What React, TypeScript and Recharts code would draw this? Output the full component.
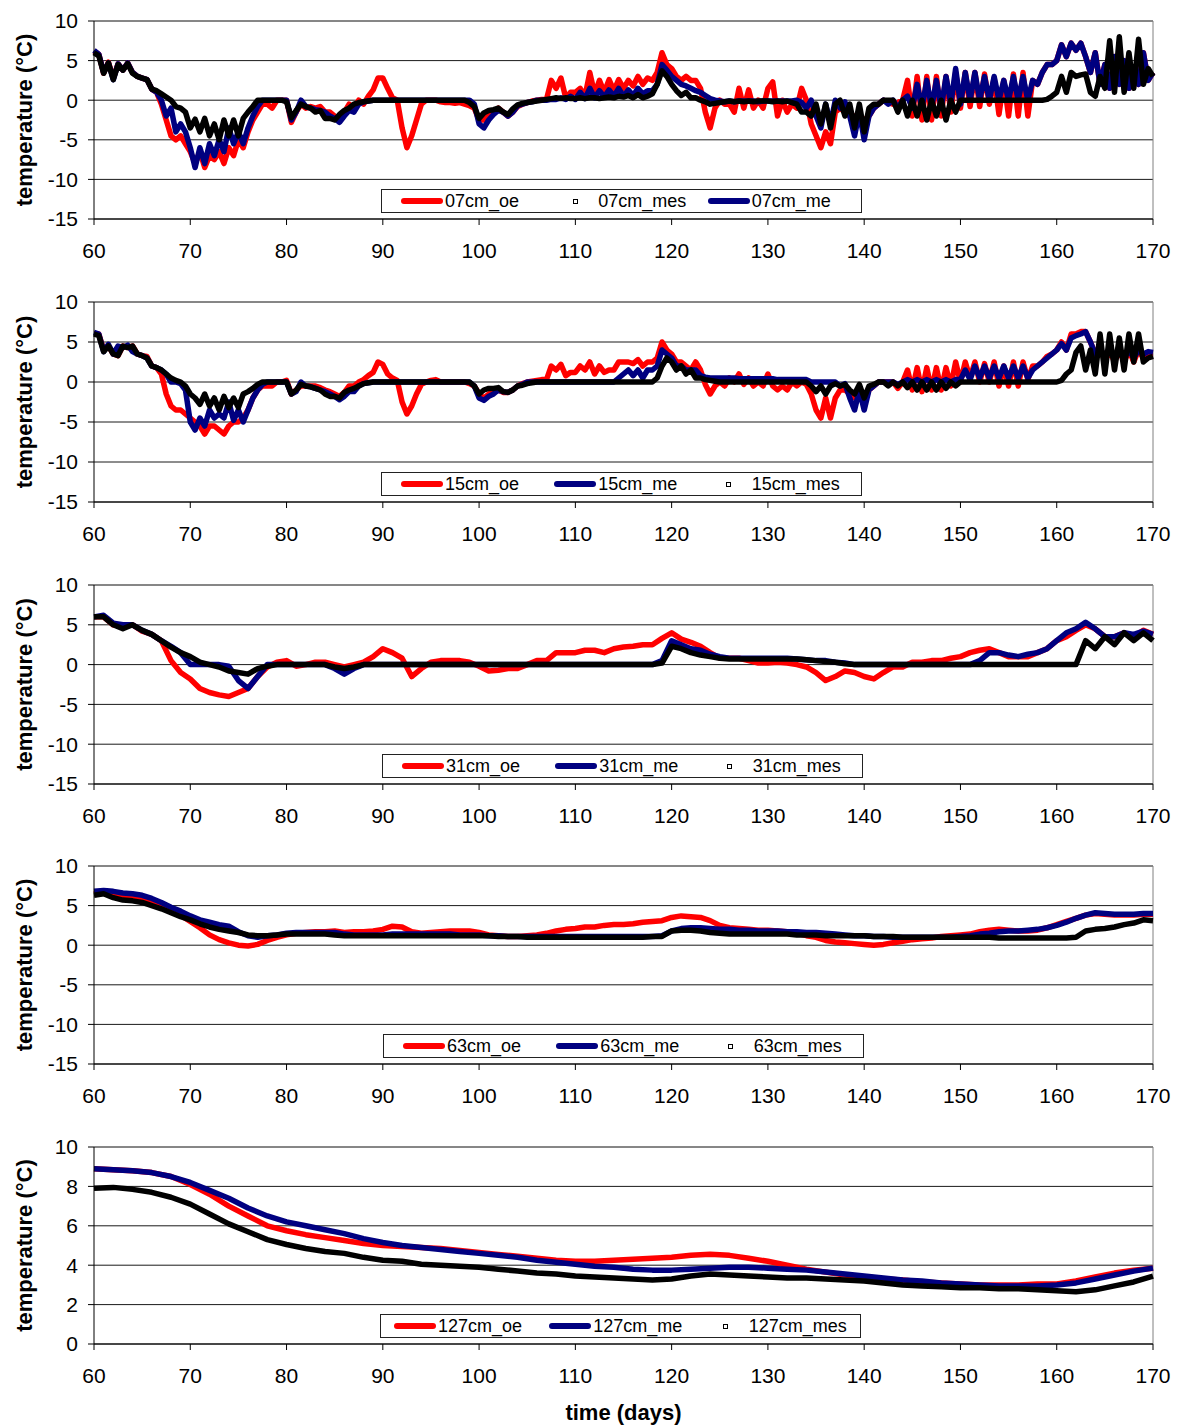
import { LineChart, Line, XAxis, YAxis, CartesianGrid, ReferenceLine } from 'recharts';

// day grids (x positions) for each panel
const DAYS_HALF = Array.from({ length: 221 }, (_, i) => 60 + i * 0.5);
const DAYS_ONE = Array.from({ length: 111 }, (_, i) => 60 + i);
const DAYS_TWO = Array.from({ length: 56 }, (_, i) => 60 + i * 2);

const X_TICKS = [60, 70, 80, 90, 100, 110, 120, 130, 140, 150, 160, 170];
const Y_TICKS_WIDE = [-15, -10, -5, 0, 5, 10];
const Y_TICKS_DEEP = [0, 2, 4, 6, 8, 10];

// ---- 07 cm (half-day steps) ----
const OE_07 = [
  6.2, 5.8, 3.4, 4.8, 2.8, 4.6, 3.8, 4.7, 3.5, 3.0,
  2.8, 2.6, 1.4, 1.0, -0.5, -2.5, -4.5, -5.0, -4.5, -5.5,
  -6.5, -8.0, -6.5, -8.5, -7.0, -7.5, -6.5, -8.0, -6.0, -7.0,
  -5.0, -6.0, -4.0, -2.5, -1.5, -0.5, -0.5, -1.0, 0.0, 0.0,
  0.0, -2.8, -1.5, -0.5, -1.0, -0.8, -1.0, -0.8, -1.5, -1.5,
  -2.0, -2.5, -1.5, -0.5, -1.0, 0.0, -0.5, 0.5, 1.3, 2.8,
  2.8, 1.5, 0.3, 0.0, -3.5, -6.0, -4.5, -2.5, -0.5, 0.0,
  0.0, 0.0, -0.2, -0.3, -0.3, -0.4, -0.3, -0.5, -0.7, -1.0,
  -2.5, -2.5, -1.8, -1.5, -1.0, -1.5, -2.0, -1.5, -0.8, -0.5,
  -0.3, -0.1, 0.0, 0.1, 0.1, 2.5, 1.5, 2.8, 0.3, 1.0,
  1.0, 1.5, 0.5, 3.5, 0.8, 2.5, 1.0, 2.6, 1.2, 2.6,
  1.5, 2.5, 1.8, 3.0, 2.0, 2.8, 2.5, 3.5, 6.0, 4.5,
  4.0, 3.0, 2.5, 3.0, 2.5, 2.5, 1.5, -1.5, -3.5, -1.0,
  0.0, -0.5, -0.5, -1.5, 1.5, -1.0, 1.3, -1.0, 0.0, -1.0,
  1.5, 2.3, -2.0, 0.0, -1.5, -0.5, -1.0, 1.5, 0.0, -3.0,
  -4.5, -6.0, -4.0, -5.5, -1.5, -1.0, -1.5, -2.0, -2.0, -2.0,
  -2.5, -2.0, -1.0, -0.5, 0.0, -0.3, -0.5, -0.3, 0.0, 2.5,
  -2.0, 3.0, -2.5, 3.0, -2.5, 3.0, -2.0, 3.0, -1.5, 3.5,
  -1.0, 3.5, -0.8, 3.5, -0.8, 3.3, -0.5, 2.8, -1.8, 2.5,
  -2.0, 3.3, -2.0, 3.5, -2.0, 2.5, 2.0, 3.5, 4.5, 4.5,
  5.0, 7.0, 5.5, 7.2, 6.3, 7.2, 5.5, 3.5, 6.0, 2.0,
  4.5, 1.5, 5.5, 2.0, 5.0, 1.5, 4.0, 2.0, 6.0, 2.5,
  3.5,
];
const ME_07 = [
  6.3, 5.8, 3.5, 4.7, 2.6, 4.6, 3.8, 4.7, 3.5, 3.0,
  2.8, 2.6, 1.4, 1.0, 0.0, -2.0, -1.0, -4.0, -3.0, -4.0,
  -6.0, -8.5, -6.0, -8.0, -5.5, -7.0, -5.0, -6.5, -3.5, -5.5,
  -4.0, -5.5, -3.5, -2.0, -0.8, 0.0, 0.0, 0.0, 0.0, 0.0,
  0.0, -2.5, -1.5, 0.0, -0.8, -1.0, -1.2, -1.3, -1.5, -2.0,
  -2.3, -2.8, -2.0, -1.3, -1.5, -0.5, -0.2, -0.1, 0.0, 0.0,
  0.0, 0.0, 0.0, 0.0, 0.0, 0.0, 0.0, 0.0, 0.0, 0.0,
  0.0, 0.0, 0.0, 0.0, 0.0, 0.0, 0.0, 0.0, 0.0, -0.5,
  -3.0, -3.5, -2.5, -1.8, -1.3, -1.5, -2.0, -1.5, -0.7, -0.5,
  -0.3, -0.2, 0.0, 0.0, 0.0, 0.1, 0.1, 0.3, 0.1, 0.5,
  0.1, 1.0, 0.2, 1.5, 0.3, 1.2, 0.4, 1.3, 0.5, 1.5,
  0.5, 1.3, 0.6, 1.5, 0.8, 1.2, 1.2, 2.0, 4.5, 3.8,
  3.0, 2.5, 2.0, 1.8, 1.5, 1.2, 1.0, 0.6, 0.2, 0.0,
  -0.1, -0.2, -0.1, -0.2, -0.1, -0.1, -0.1, -0.1, -0.2, -0.1,
  -0.1, -0.1, -0.1, -0.1, -0.1, -0.1, 0.0, -0.3, -1.0, 0.0,
  -2.0, -3.5, -0.5, -3.0, 0.0, -1.0, -0.2, -2.0, -4.5, -1.5,
  -5.0, -2.0, -1.0, -0.5, 0.0, -0.5, 0.0, -1.0, 0.0, 0.5,
  -1.0, 2.0, -1.0, 2.5, -1.0, 2.5, -1.0, 3.0, -0.5, 4.0,
  -0.5, 3.5, 0.0, 3.5, 0.0, 3.0, 0.0, 3.0, 0.0, 2.5,
  0.0, 3.0, 0.0, 3.0, 0.0, 2.5, 2.0, 3.5, 4.5, 4.5,
  5.0, 7.0, 5.5, 7.2, 6.3, 7.2, 5.5, 3.5, 6.0, 2.0,
  4.5, 1.5, 5.5, 2.0, 5.0, 1.5, 4.0, 2.0, 6.0, 2.5,
  3.5,
];
const MES_07 = [
  6.0, 5.6, 3.4, 4.7, 2.6, 4.5, 3.8, 4.6, 3.4, 3.0,
  2.8, 2.6, 1.4, 1.2, 0.8, 0.4, 0.0, -0.8, -1.0, -1.5,
  -3.5, -2.4, -4.0, -2.3, -4.5, -3.0, -5.0, -2.5, -4.5, -2.5,
  -4.5, -2.3, -1.5, -0.8, 0.0, 0.0, 0.0, 0.0, 0.0, 0.0,
  -0.2, -2.2, -1.3, -0.5, -0.8, -1.0, -1.5, -1.3, -2.3, -2.3,
  -2.5, -1.8, -1.3, -1.0, -0.5, -0.3, -0.2, -0.1, 0.0, 0.0,
  0.0, 0.0, 0.0, 0.0, 0.0, 0.0, 0.0, 0.0, 0.0, 0.0,
  0.0, 0.0, 0.0, 0.0, 0.0, 0.0, 0.0, 0.0, -0.3, -0.8,
  -2.3, -1.6, -1.3, -1.2, -1.0, -1.5, -1.8, -1.1, -0.6, -0.4,
  -0.3, -0.2, -0.1, 0.0, 0.1, 0.2, 0.3, 0.2, 0.3, 0.2,
  0.2, 0.3, 0.2, 0.3, 0.3, 0.2, 0.3, 0.4, 0.3, 0.5,
  0.4, 0.6, 0.3, 0.7, 0.3, 0.5, 0.8, 2.0, 3.7, 3.0,
  2.0, 1.2, 0.6, 1.0, 0.3, 0.3, 0.0, -0.2, -0.5, -0.4,
  -0.3, -0.2, -0.1, -0.2, -0.1, -0.2, -0.1, -0.2, -0.1, -0.1,
  -0.1, -0.2, -0.1, -0.2, -0.1, -0.3, -0.5, -1.5, -1.5, -2.0,
  -0.5, -3.0, -0.5, -3.5, -0.5, 0.0, -2.0, -0.5, -3.5, -0.5,
  -4.0, -1.0, -0.5, -0.5, 0.0, 0.0, 0.0, -1.5, 0.0, -2.0,
  0.0, -2.0, 0.0, -2.5, 0.0, -2.0, 0.0, -2.5, 0.0, -1.5,
  0.0, 0.0, 0.0, 0.0, 0.0, 0.0, 0.0, 0.0, 0.0, 0.0,
  0.0, 0.0, 0.0, 0.0, 0.0, 0.0, 0.0, 0.0, 0.1, 0.5,
  1.0, 3.0, 1.0, 3.5, 3.0, 3.2, 3.3, 1.0, 0.5, 3.0,
  1.5, 7.5, 1.0, 8.0, 1.0, 6.0, 1.5, 7.7, 2.0, 4.0,
  3.0,
];

// ---- 15 cm (half-day steps) ----
const OE_15 = [
  6.0, 6.0, 4.0, 4.5, 3.5, 3.3, 4.5, 4.3, 4.5, 3.5,
  3.3, 3.2, 2.0, 1.8, 1.0, -1.5, -3.0, -3.5, -3.5, -4.0,
  -4.5, -5.0, -5.5, -6.5, -5.5, -5.5, -6.0, -6.5, -5.5, -5.0,
  -5.0, -4.5, -3.5, -2.0, -1.0, -0.5, -0.5, -0.5, 0.0, 0.0,
  0.2, -1.5, -1.0, -0.5, -0.5, -0.5, -0.5, -0.7, -1.0, -1.2,
  -1.5, -1.8, -1.3, -0.5, -0.5, 0.0, 0.3, 0.8, 1.2, 2.5,
  2.2, 1.0, 0.5, 0.2, -2.5, -4.0, -3.0, -1.5, -0.3, 0.0,
  0.2, 0.3, 0.0, 0.0, 0.0, 0.0, 0.0, 0.0, -0.2, -0.5,
  -1.5, -2.0, -1.5, -1.2, -1.0, -1.3, -1.3, -1.0, -0.5, -0.2,
  0.0, 0.1, 0.2, 0.3, 0.3, 2.0, 1.5, 2.2, 0.8, 1.2,
  1.2, 2.0, 1.5, 2.5, 1.0, 2.0, 1.2, 1.5, 1.5, 2.5,
  2.5, 2.5, 2.3, 2.8, 2.0, 2.5, 2.5, 3.0, 5.0, 4.0,
  3.5, 2.5, 2.5, 2.0, 1.5, 2.5, 1.5, -0.3, -1.5, -0.5,
  0.0, -0.5, 0.5, 0.0, 1.0, -0.3, 0.5, -0.5, 0.0, -0.5,
  1.0, -0.5, -1.0, -0.5, -1.0, 0.0, -0.5, 0.0, -0.3, -1.5,
  -3.5, -4.5, -2.0, -4.5, -2.0, -1.0, -1.0, -1.5, -2.0, -1.0,
  -2.5, -1.0, -0.5, 0.0, 0.0, 0.0, 0.0, -0.8, 0.0, 1.5,
  -1.0, 1.8, -1.2, 1.8, -1.0, 1.8, -1.0, 1.8, -0.5, 2.5,
  0.0, 2.5, 0.5, 2.5, 0.0, 2.3, 0.0, 2.5, -0.5, 2.0,
  -0.5, 2.5, -0.5, 2.5, 0.3, 2.0, 2.0, 2.5, 3.2, 3.5,
  4.0, 5.0, 4.0, 6.0, 6.0, 6.3, 6.3, 5.0, 3.5, 4.5,
  2.5, 4.0, 2.5, 4.0, 2.5, 4.0, 2.5, 4.0, 3.0, 3.5,
  3.5,
];
const ME_15 = [
  6.2, 6.0, 3.8, 4.7, 3.5, 4.5, 4.3, 4.6, 3.8, 3.5,
  3.3, 3.0, 2.0, 1.8, 1.5, 1.0, 0.0, 0.0, -0.2, -1.0,
  -5.0, -6.0, -4.5, -5.5, -3.5, -4.5, -4.0, -4.5, -2.5, -4.8,
  -3.5, -5.0, -3.5, -2.0, -1.0, -0.3, 0.0, 0.0, 0.0, 0.0,
  0.0, -1.5, -1.2, 0.0, -0.5, -0.6, -0.8, -1.0, -1.2, -1.5,
  -1.8, -2.2, -1.8, -1.2, -1.2, -0.5, -0.2, -0.1, 0.0, 0.0,
  0.0, 0.0, 0.0, 0.0, 0.0, 0.0, 0.0, 0.0, 0.0, 0.0,
  0.0, 0.0, 0.0, 0.0, 0.0, 0.0, 0.0, 0.0, 0.0, -0.5,
  -2.0, -2.3, -1.8, -1.5, -1.0, -1.2, -1.3, -1.0, -0.5, -0.3,
  0.0, 0.0, 0.0, 0.0, 0.0, 0.0, 0.0, 0.0, 0.0, 0.0,
  0.0, 0.0, 0.0, 0.0, 0.0, 0.0, 0.0, 0.0, 0.0, 0.5,
  1.0, 1.5, 0.8, 1.5, 0.5, 1.5, 1.5, 2.0, 4.0, 3.5,
  3.0, 2.0, 2.0, 1.5, 1.5, 1.5, 0.8, 0.6, 0.5, 0.5,
  0.5, 0.5, 0.5, 0.5, 0.4, 0.4, 0.4, 0.4, 0.4, 0.4,
  0.4, 0.4, 0.3, 0.3, 0.3, 0.3, 0.3, 0.3, 0.3, 0.0,
  0.0, 0.0, 0.0, 0.0, 0.0, -0.5, -0.2, -2.0, -3.5, -1.0,
  -3.5, -1.0, -0.5, 0.0, 0.0, 0.0, 0.0, -0.3, 0.0, 0.3,
  0.0, 0.3, 0.0, 0.3, 0.0, 0.3, 0.0, 0.3, 0.0, 0.3,
  0.3, 1.5, 0.3, 2.0, 0.5, 2.0, 0.5, 2.0, 0.5, 2.0,
  0.5, 2.0, 0.5, 2.0, 0.5, 1.5, 2.0, 2.5, 3.0, 3.5,
  4.0, 4.8, 4.0, 5.5, 5.8, 6.0, 6.3, 5.0, 3.5, 4.3,
  3.0, 4.0, 3.0, 4.0, 3.0, 4.0, 3.0, 4.0, 3.5, 3.8,
  3.7,
];
const MES_15 = [
  6.0, 5.8, 3.8, 4.5, 3.5, 3.3, 4.5, 4.3, 4.5, 3.5,
  3.3, 3.0, 2.0, 1.8, 1.5, 1.0, 0.5, 0.2, 0.0, -0.5,
  -1.5, -2.0, -2.8, -1.5, -3.0, -2.0, -3.5, -1.8, -3.2, -2.0,
  -3.2, -1.5, -1.2, -0.8, -0.3, 0.0, 0.0, 0.0, 0.0, 0.0,
  0.0, -1.5, -1.0, -0.3, -0.5, -0.6, -0.8, -1.0, -1.5, -1.8,
  -1.8, -2.0, -1.3, -1.0, -0.8, -0.5, -0.2, -0.1, 0.0, 0.0,
  0.0, 0.0, 0.0, 0.0, 0.0, 0.0, 0.0, 0.0, 0.0, 0.0,
  0.0, 0.0, 0.0, 0.0, 0.0, 0.0, 0.0, 0.0, 0.0, -0.5,
  -1.5, -1.0, -0.8, -0.8, -0.7, -1.2, -1.3, -1.0, -0.5, -0.4,
  -0.2, -0.1, 0.0, 0.0, 0.0, 0.0, 0.0, 0.0, 0.0, 0.0,
  0.0, 0.0, 0.0, 0.0, 0.0, 0.0, 0.0, 0.0, 0.0, 0.0,
  0.0, 0.0, 0.0, 0.0, 0.0, 0.0, 0.0, 0.5, 2.0, 3.0,
  2.5, 1.5, 2.0, 1.0, 1.5, 0.5, 0.5, 0.3, 0.2, 0.1,
  0.0, 0.0, 0.0, 0.0, 0.0, 0.0, 0.0, 0.0, 0.0, 0.0,
  0.0, 0.0, 0.0, 0.0, 0.0, 0.0, 0.0, 0.0, 0.0, -0.5,
  -1.2, -0.5, -1.5, -0.5, -0.2, -0.5, -0.3, -1.0, -1.5, -0.3,
  -2.0, -0.5, -0.3, 0.0, 0.0, -0.5, 0.0, -0.5, 0.0, -0.7,
  0.0, -1.0, 0.0, -1.0, 0.0, -1.0, 0.0, -0.8, 0.0, -0.5,
  0.0, 0.0, 0.0, 0.0, 0.0, 0.0, 0.0, 0.0, 0.0, 0.0,
  0.0, 0.0, 0.0, 0.0, 0.0, 0.0, 0.0, 0.0, 0.0, 0.0,
  0.0, 0.2, 1.0, 1.5, 3.7, 4.5, 1.5, 4.0, 1.0, 6.0,
  1.0, 6.0, 1.5, 5.5, 1.5, 6.0, 2.5, 6.0, 2.5, 3.0,
  3.2,
];

// ---- 31 cm (daily steps) ----
const OE_31 = [
  6.0, 6.0, 5.0, 4.8, 5.0, 4.2, 3.8, 3.0, 0.5, -1.0,
  -1.8, -3.0, -3.5, -3.8, -4.0, -3.5, -3.0, -1.5, -0.3, 0.3,
  0.5, -0.2, 0.0, 0.3, 0.3, 0.0, -0.3, 0.0, 0.3, 1.0,
  2.0, 1.5, 0.8, -1.5, -0.5, 0.3, 0.5, 0.5, 0.5, 0.3,
  -0.2, -0.8, -0.7, -0.5, -0.5, 0.0, 0.5, 0.5, 1.5, 1.5,
  1.5, 1.8, 1.8, 1.5, 2.0, 2.2, 2.3, 2.5, 2.5, 3.3,
  4.0, 3.2, 2.8, 2.3, 1.5, 0.8, 0.8, 0.8, 0.5, 0.2,
  0.2, 0.3, 0.2, 0.0, -0.3, -1.0, -2.0, -1.5, -0.8, -1.0,
  -1.5, -1.8, -1.0, -0.3, -0.3, 0.3, 0.3, 0.5, 0.5, 0.8,
  1.0, 1.5, 1.8, 2.0, 1.5, 1.0, 1.0, 1.0, 1.5, 2.0,
  3.0, 3.5, 4.3, 5.0, 4.5, 3.5, 3.5, 4.0, 3.5, 4.3,
  3.8,
];
const ME_31 = [
  6.0, 6.2, 5.2, 5.0, 5.0, 4.3, 3.8, 3.0, 2.3, 1.5,
  0.0, 0.0, 0.0, 0.0, -0.2, -2.0, -3.0, -1.5, 0.0, 0.0,
  0.0, 0.0, 0.0, 0.0, 0.0, -0.5, -1.2, -0.5, 0.0, 0.0,
  0.0, 0.0, 0.0, 0.0, 0.0, 0.0, 0.0, 0.0, 0.0, 0.0,
  0.0, 0.0, 0.0, 0.0, 0.0, 0.0, 0.0, 0.0, 0.0, 0.0,
  0.0, 0.0, 0.0, 0.0, 0.0, 0.0, 0.0, 0.0, 0.0, 0.5,
  3.0, 2.5, 2.0, 1.8, 1.3, 1.0, 0.8, 0.8, 0.8, 0.8,
  0.8, 0.8, 0.8, 0.7, 0.6, 0.5, 0.5, 0.3, 0.2, 0.0,
  0.0, 0.0, 0.0, 0.0, 0.0, 0.0, 0.0, 0.0, 0.0, 0.0,
  0.0, 0.0, 0.5, 1.5, 1.5, 1.2, 1.0, 1.3, 1.5, 2.0,
  3.0, 4.0, 4.5, 5.3, 4.5, 3.5, 3.5, 4.0, 3.8, 4.2,
  3.8,
];
const MES_31 = [
  6.0, 6.0, 5.0, 4.5, 5.0, 4.3, 3.8, 3.0, 2.2, 1.5,
  1.0, 0.3, 0.0, -0.3, -0.8, -1.0, -1.2, -0.5, -0.2, 0.0,
  0.0, 0.0, 0.0, 0.0, 0.0, -0.3, -0.5, -0.3, 0.0, 0.0,
  0.0, 0.0, 0.0, 0.0, 0.0, 0.0, 0.0, 0.0, 0.0, 0.0,
  0.0, 0.0, 0.0, 0.0, 0.0, 0.0, 0.0, 0.0, 0.0, 0.0,
  0.0, 0.0, 0.0, 0.0, 0.0, 0.0, 0.0, 0.0, 0.0, 0.2,
  2.3, 2.0, 1.5, 1.2, 1.0, 0.8, 0.7, 0.7, 0.7, 0.7,
  0.7, 0.7, 0.7, 0.7, 0.6, 0.5, 0.4, 0.3, 0.1, 0.0,
  0.0, 0.0, 0.0, 0.0, 0.0, 0.0, 0.0, 0.0, 0.0, 0.0,
  0.0, 0.0, 0.0, 0.0, 0.0, 0.0, 0.0, 0.0, 0.0, 0.0,
  0.0, 0.0, 0.0, 3.0, 2.0, 3.5, 2.5, 4.0, 3.0, 4.0,
  3.0,
];

// ---- 63 cm (daily steps) ----
const OE_63 = [
  6.5, 6.7, 6.5, 6.3, 6.2, 5.8, 5.3, 4.8, 4.3, 3.8,
  3.0, 2.2, 1.3, 0.7, 0.3, 0.0, -0.1, 0.1, 0.6, 1.0,
  1.3, 1.5, 1.6, 1.7, 1.7, 1.8, 1.6, 1.7, 1.7, 1.8,
  2.0, 2.4, 2.3, 1.7, 1.5, 1.6, 1.7, 1.8, 1.8, 1.8,
  1.6, 1.3, 1.2, 1.1, 1.1, 1.2, 1.3, 1.5, 1.8, 2.0,
  2.1, 2.3, 2.3, 2.5, 2.6, 2.6, 2.7, 2.9, 3.0, 3.1,
  3.5, 3.7, 3.6, 3.5, 3.1, 2.5, 2.2, 2.1, 2.0, 1.9,
  1.9, 1.8, 1.7, 1.5, 1.2, 1.0, 0.6, 0.4, 0.3, 0.2,
  0.1, 0.0, 0.1, 0.3, 0.5, 0.7, 0.8, 0.9, 1.1, 1.2,
  1.3, 1.4, 1.7, 1.9, 2.0, 1.9, 1.8, 1.8, 1.9, 2.2,
  2.6, 3.0, 3.4, 3.8, 4.0, 3.9, 3.8, 3.8, 3.8, 3.9,
  3.9,
];
const ME_63 = [
  6.8, 6.9, 6.8, 6.6, 6.5, 6.3, 5.9, 5.4, 4.8, 4.3,
  3.7, 3.2, 2.9, 2.6, 2.4, 1.7, 1.2, 1.0, 1.2, 1.3,
  1.5, 1.6, 1.6, 1.6, 1.6, 1.6, 1.4, 1.3, 1.3, 1.3,
  1.3, 1.4, 1.4, 1.4, 1.4, 1.4, 1.4, 1.4, 1.3, 1.3,
  1.3, 1.2, 1.2, 1.1, 1.1, 1.1, 1.1, 1.1, 1.1, 1.1,
  1.1, 1.1, 1.1, 1.1, 1.1, 1.1, 1.1, 1.1, 1.1, 1.2,
  1.8, 2.1, 2.2, 2.2, 2.1, 2.0, 2.0, 1.9, 1.9, 1.8,
  1.8, 1.8, 1.7, 1.7, 1.6, 1.6, 1.5, 1.4, 1.3, 1.2,
  1.2, 1.1, 1.1, 1.0, 1.0, 1.0, 1.0, 1.0, 1.0, 1.0,
  1.1, 1.2, 1.4, 1.5, 1.7, 1.8, 1.8, 1.9, 2.0, 2.2,
  2.5, 2.9, 3.4, 3.8, 4.1, 4.0, 3.9, 3.9, 3.9, 4.0,
  4.0,
];
const MES_63 = [
  6.3, 6.5, 6.0, 5.7, 5.6, 5.4, 5.0, 4.6, 4.1, 3.6,
  3.2, 2.7, 2.3, 2.0, 1.8, 1.6, 1.3, 1.2, 1.2, 1.3,
  1.4, 1.4, 1.4, 1.4, 1.4, 1.3, 1.2, 1.2, 1.2, 1.2,
  1.2, 1.2, 1.2, 1.2, 1.2, 1.2, 1.2, 1.2, 1.2, 1.2,
  1.2, 1.2, 1.1, 1.1, 1.1, 1.0, 1.0, 1.0, 1.0, 1.0,
  1.0, 1.0, 1.0, 1.0, 1.0, 1.0, 1.0, 1.0, 1.1, 1.1,
  1.8, 1.9, 1.9, 1.8, 1.6, 1.5, 1.4, 1.4, 1.4, 1.4,
  1.4, 1.4, 1.4, 1.3, 1.3, 1.3, 1.2, 1.2, 1.2, 1.2,
  1.2, 1.1, 1.1, 1.1, 1.0, 1.0, 1.0, 1.0, 1.0, 1.0,
  1.0, 1.0, 1.0, 1.0, 0.9, 0.9, 0.9, 0.9, 0.9, 0.9,
  0.9, 0.9, 1.0, 1.8, 2.0, 2.1, 2.3, 2.6, 2.8, 3.2,
  3.1,
];

// ---- 127 cm (two-day steps) ----
const OE_127 = [
  8.9, 8.85, 8.8, 8.7, 8.5, 8.1, 7.6, 7.0, 6.5, 6.0,
  5.75, 5.55, 5.4, 5.25, 5.1, 5.0, 4.95, 4.9, 4.85, 4.75,
  4.65, 4.55, 4.45, 4.35, 4.25, 4.2, 4.2, 4.25, 4.3, 4.35,
  4.4, 4.5, 4.55, 4.5, 4.35, 4.2, 4.0, 3.8, 3.65, 3.5,
  3.4, 3.3, 3.25, 3.15, 3.1, 3.05, 3.0, 3.0, 3.0, 3.05,
  3.05, 3.2, 3.4, 3.6, 3.75, 3.85,
];
const ME_127 = [
  8.9, 8.85, 8.8, 8.7, 8.5, 8.2, 7.8, 7.4, 6.9, 6.5,
  6.2, 6.0, 5.8, 5.6, 5.35, 5.15, 5.0, 4.9, 4.8, 4.7,
  4.6, 4.5, 4.4, 4.25, 4.15, 4.05, 3.95, 3.9, 3.8, 3.75,
  3.75, 3.8, 3.85, 3.9, 3.9, 3.85, 3.8, 3.75, 3.65, 3.55,
  3.45, 3.35, 3.25, 3.2, 3.1, 3.05, 3.0, 2.95, 2.95, 2.95,
  3.0, 3.1, 3.3, 3.5, 3.7, 3.85,
];
const MES_127 = [
  7.9, 7.95, 7.85, 7.7, 7.45, 7.1, 6.6, 6.1, 5.7, 5.3,
  5.05, 4.85, 4.7, 4.6, 4.4, 4.25, 4.2, 4.05, 4.0, 3.95,
  3.9, 3.8, 3.7, 3.6, 3.55, 3.45, 3.4, 3.35, 3.3, 3.25,
  3.3, 3.45, 3.55, 3.5, 3.45, 3.4, 3.35, 3.35, 3.3, 3.25,
  3.2, 3.1, 3.0, 2.95, 2.9, 2.85, 2.85, 2.8, 2.8, 2.75,
  2.7, 2.65, 2.75, 2.95, 3.15, 3.45,
];

const RED = '#ff0000';
const NAVY = '#000080';
const BLACK = '#000000';
const FONT = '"Liberation Sans", Arial, Helvetica, sans-serif';
const TOP_PAD = 16;

type Key = 'oe' | 'me' | 'mes';

interface PanelCfg {
  depth: string;
  days: number[];
  oe: number[];
  me: number[];
  mes: number[];
  yTicks: number[];
  top: number;
  bottom: number;
  legendOrder: Key[];
  legendLeft: number;
  legendPad: number;
  legendStep: number;
  xLabel?: boolean;
}

const PANELS: PanelCfg[] = [
  { depth: '07cm', days: DAYS_HALF, oe: OE_07, me: ME_07, mes: MES_07, yTicks: Y_TICKS_WIDE, top: 21, bottom: 219, legendOrder: ['oe', 'mes', 'me'], legendLeft: 381, legendPad: 19, legendStep: 160 },
  { depth: '15cm', days: DAYS_HALF, oe: OE_15, me: ME_15, mes: MES_15, yTicks: Y_TICKS_WIDE, top: 302, bottom: 502, legendOrder: ['oe', 'me', 'mes'], legendLeft: 381, legendPad: 19, legendStep: 160 },
  { depth: '31cm', days: DAYS_ONE, oe: OE_31, me: ME_31, mes: MES_31, yTicks: Y_TICKS_WIDE, top: 585, bottom: 784, legendOrder: ['oe', 'me', 'mes'], legendLeft: 382, legendPad: 19, legendStep: 160 },
  { depth: '63cm', days: DAYS_ONE, oe: OE_63, me: ME_63, mes: MES_63, yTicks: Y_TICKS_WIDE, top: 866, bottom: 1064, legendOrder: ['oe', 'me', 'mes'], legendLeft: 383, legendPad: 19, legendStep: 160 },
  { depth: '127cm', days: DAYS_TWO, oe: OE_127, me: ME_127, mes: MES_127, yTicks: Y_TICKS_DEEP, top: 1147, bottom: 1344, legendOrder: ['oe', 'me', 'mes'], legendLeft: 380, legendPad: 13, legendStep: 157, xLabel: true },
];

const SERIES_COLOR: Record<Key, string> = { oe: RED, me: NAVY, mes: BLACK };

const LegendBox = ({ cfg, top }: { cfg: PanelCfg; top: number }) => (
  <div
    style={{
      position: 'absolute',
      left: cfg.legendLeft,
      top,
      width: 481,
      height: 24,
      boxSizing: 'border-box',
      border: '1px solid #222',
      background: '#fff',
      display: 'flex',
      alignItems: 'center',
      paddingLeft: cfg.legendPad,
      fontSize: 18,
      fontFamily: FONT,
      color: '#000',
    }}
  >
    {cfg.legendOrder.map((k) => (
      <div key={k} style={{ width: cfg.legendStep, display: 'flex', alignItems: 'center' }}>
        <span style={{ width: 42, display: 'flex', justifyContent: 'center', alignItems: 'center' }}>
          {k === 'mes' ? (
            <span style={{ width: 3, height: 3, border: '1.5px solid #000', background: '#fff' }} />
          ) : (
            <span style={{ width: 42, height: 6, borderRadius: 3, background: SERIES_COLOR[k] }} />
          )}
        </span>
        <span style={{ marginLeft: 2, whiteSpace: 'nowrap', lineHeight: '20px' }}>{`${cfg.depth}_${k}`}</span>
      </div>
    ))}
  </div>
);

const Panel = ({ cfg }: { cfg: PanelCfg }) => {
  const rows = cfg.days.map((day, i) => ({ day, oe: cfg.oe[i], me: cfg.me[i], mes: cfg.mes[i] }));
  const plotH = cfg.bottom - cfg.top;
  const extra = cfg.xLabel ? 44 : 10;
  const height = TOP_PAD + plotH + 40 + extra;
  const yMax = cfg.yTicks[cfg.yTicks.length - 1];
  const tickStyle = { fontSize: 21, fill: '#000', fontFamily: FONT };

  return (
    <div style={{ position: 'absolute', left: 0, top: cfg.top - TOP_PAD }}>
      <LineChart width={1179} height={height} data={rows} margin={{ top: TOP_PAD, right: 26, bottom: extra, left: 34 }}>
        <CartesianGrid vertical={false} stroke="#1a1a1a" />
        <ReferenceLine y={yMax} stroke="#808080" />
        <ReferenceLine x={170} stroke="#808080" />
        <XAxis
          dataKey="day"
          type="number"
          domain={[60, 170]}
          ticks={X_TICKS}
          interval={0}
          height={40}
          tickSize={6}
          tickMargin={18}
          tick={tickStyle}
          axisLine={{ stroke: '#000' }}
          tickLine={{ stroke: '#000' }}
          label={
            cfg.xLabel
              ? { value: 'time (days)', position: 'bottom', offset: 20, style: { fontSize: 22, fontWeight: 'bold', fill: '#000', fontFamily: FONT } }
              : undefined
          }
        />
        <YAxis
          type="number"
          domain={[cfg.yTicks[0], yMax]}
          ticks={cfg.yTicks}
          interval={0}
          width={60}
          tickSize={6}
          tickMargin={10}
          tick={tickStyle}
          axisLine={{ stroke: '#000' }}
          tickLine={{ stroke: '#000' }}
          label={{
            value: 'temperature (°C)',
            angle: -90,
            position: 'left',
            offset: 10,
            style: { textAnchor: 'middle', fontSize: 22, fontWeight: 'bold', fill: '#000', fontFamily: FONT },
          }}
        />
        <Line type="linear" dataKey="oe" stroke={RED} strokeWidth={5.5} dot={false} isAnimationActive={false} strokeLinejoin="round" />
        <Line type="linear" dataKey="me" stroke={NAVY} strokeWidth={5.5} dot={false} isAnimationActive={false} strokeLinejoin="round" />
        <Line type="linear" dataKey="mes" stroke={BLACK} strokeWidth={5.5} dot={false} isAnimationActive={false} strokeLinejoin="round" />
      </LineChart>
      <LegendBox cfg={cfg} top={TOP_PAD + plotH - 30} />
    </div>
  );
}

export default function App() {
  return (
    <div style={{ position: 'absolute', left: 0, top: 0, width: 1179, height: 1428, background: '#fff', fontFamily: FONT }}>
      {PANELS.map((p) => (
        <Panel key={p.depth} cfg={p} />
      ))}
    </div>
  );
}
